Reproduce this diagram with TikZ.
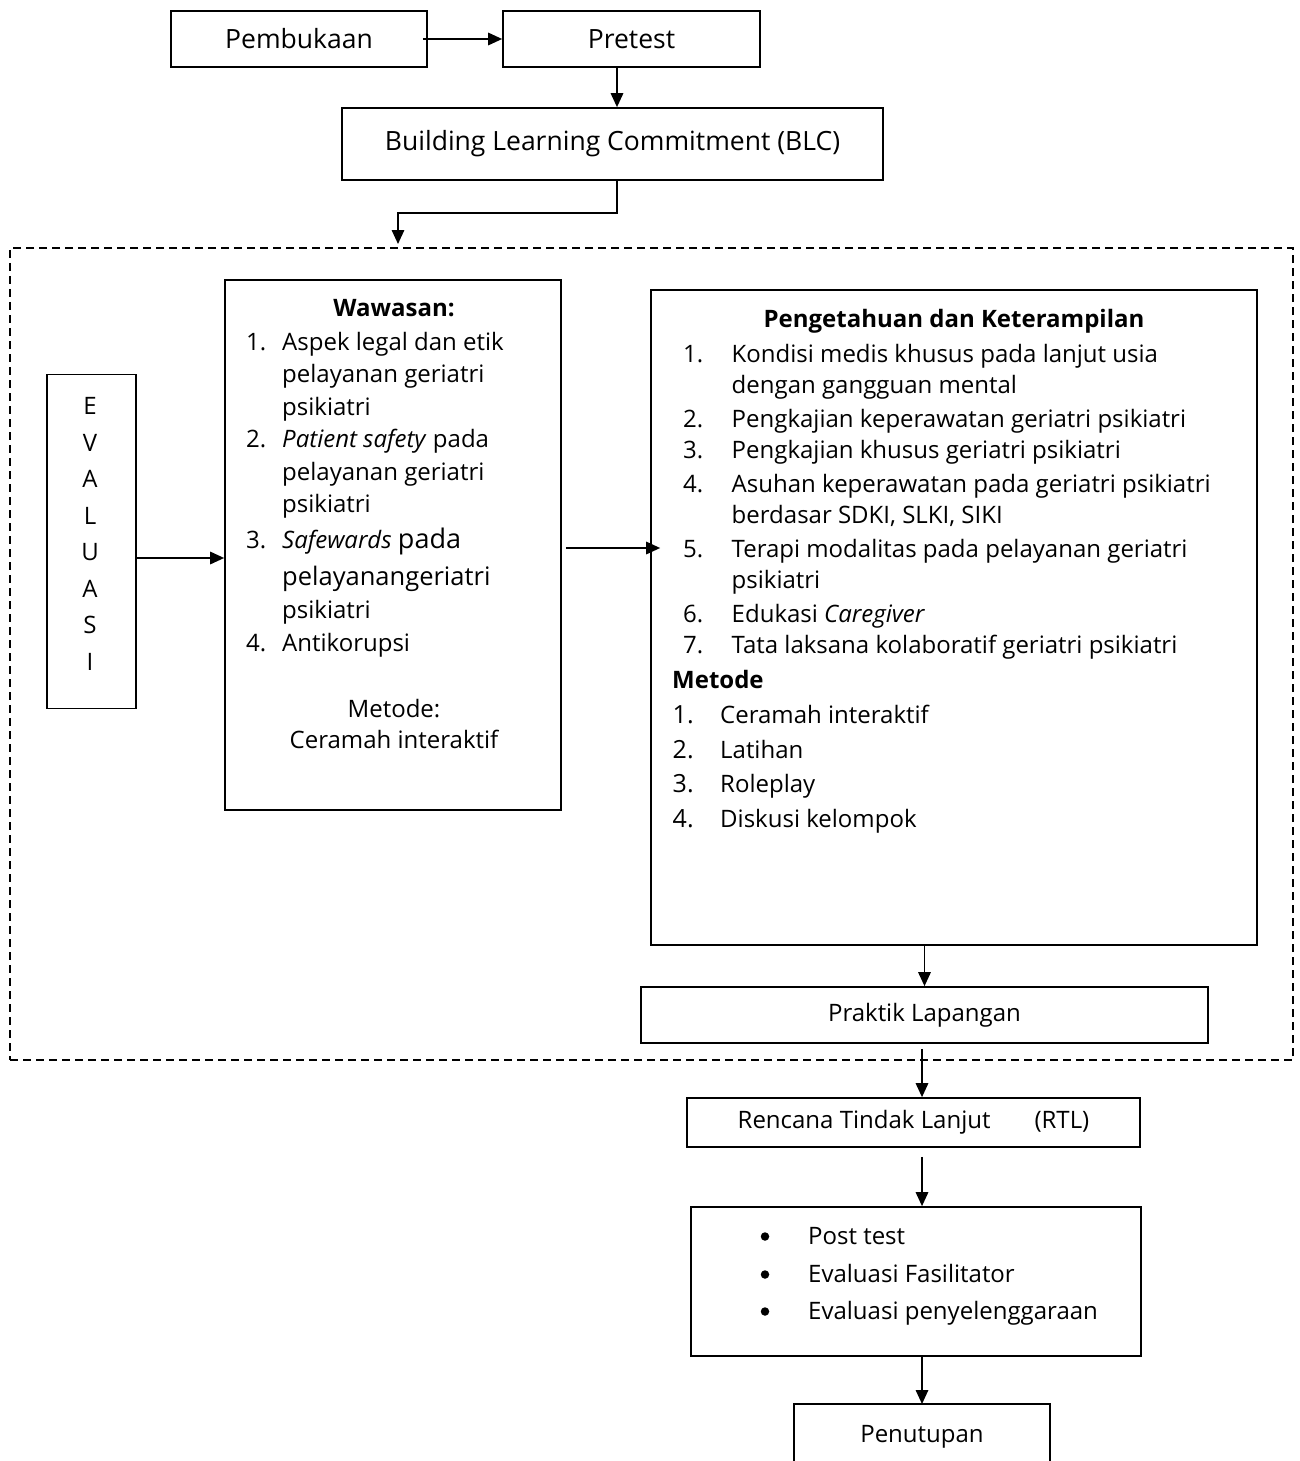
\documentclass[tikz,border=0pt]{standalone}
\usepackage{fontspec}
\setmainfont{Open Sans}
\usetikzlibrary{arrows.meta,calc}
\newcommand\fsz{\fontsize{24}{33}\selectfont}
\newcommand\fbig{\fontsize{26.5}{33}\selectfont}
\begin{document}
\begin{tikzpicture}[x=1pt,y=-1pt,
  box/.style={draw, line width=1.7pt, inner sep=0pt, font=\fsz},
  arr/.style={line width=1.6pt, -{Triangle[length=14pt,width=12.5pt]}},
  ln/.style={line width=1.7pt},
  tx/.style={inner sep=0pt, anchor=base west, font=\fsz},
  tc/.style={inner sep=0pt, anchor=base, font=\fsz},
  dot/.style={circle, fill, inner sep=0pt, minimum size=8.5pt},
  dbox/.style={draw, line width=1.5pt, dash pattern=on 8pt off 5pt, inner sep=0pt}]
\useasboundingbox (0,0) rectangle (1299,1461);
\fill[white] (0,0) rectangle (1299,1461);

% boxes
\node[box, font=\fbig, minimum width=256pt, minimum height=56pt] (pemb) at (299,39) {Pembukaan};
\node[box, font=\fbig, minimum width=257pt, minimum height=56pt] (pre) at (631.5,39) {Pretest};
\node[box, font=\fbig, minimum width=541pt, minimum height=72pt] (blc) at (612.5,144) {Building Learning Commitment (BLC)};
\node[dbox, minimum width=1283pt, minimum height=812pt] (grp) at (651.5,654) {};
\node[box, minimum width=89pt, minimum height=334pt] (eval) at (91.5,541.5) {};
\node[inner sep=0pt, align=center, font=\fontsize{24}{36.5}\selectfont] (evaltxt) at (90,534) {E\\V\\A\\L\\U\\A\\S\\I};
\node[box, minimum width=336pt, minimum height=530pt] (waw) at (393,545) {};
\node[box, minimum width=606pt, minimum height=655pt] (pk) at (954,617.5) {};
\node[box, minimum width=567pt, minimum height=56pt] (prak) at (924.5,1015) {Praktik Lapangan};
\node[box, minimum width=453pt, minimum height=49pt] (rtl) at (913.5,1122.5) {Rencana Tindak Lanjut\hspace{44pt}(RTL)};
\node[box, minimum width=450pt, minimum height=149pt] (ev) at (916,1281.5) {};
\draw[ln] (794,1461) |- (1050,1404) -- (1050,1461);
\coordinate (pentop) at (922,1404);
\node[tc] (pen) at (922,1442) {Penutupan};

% connectors
\draw[arr] ([xshift=-5pt]pemb.east) -- (pre.west);
\draw[arr] ([xshift=-14.5pt]pre.south) -- ([xshift=-14.5pt]pre.south |- blc.north);
\coordinate (bend) at (617,213);
\coordinate (gin) at (398,244);
\draw[arr] (bend |- blc.south) -- (bend) -| (gin);
\draw[arr] ($(eval.east)+(0,16.5)$) -- ($(waw.west)+(0,13)$);
\draw[arr] ($(waw.east)+(4,3)$) -- ($(pk.west)+(10,-69.5)$);
\draw[arr] (prak.north |- pk.south) -- (prak.north);
\draw[arr] ($(prak.south)+(-2.5,5)$) -- ($(rtl.north)+(8.5,0)$);
\draw[arr] ($(rtl.south)+(8.5,9)$) -- ($(ev.north)+(6,0)$);
\draw[arr] ($(ev.south)+(6,0)$) -- (pentop);

% Wawasan text
\node[tc, font=\fsz\bfseries] (wt) at (394,316) {Wawasan:};
\node[tx] (w1n) at (246,350) {1.};
\node[tx] (w1a) at (282,350) {Aspek legal dan etik};
\node[tx] (w1b) at (282,382) {pelayanan geriatri};
\node[tx] (w1c) at (282,415) {psikiatri};
\node[tx] (w2n) at (246,447) {2.};
\node[tx] (w2a) at (282,447) {\textit{Patient safety} pada};
\node[tx] (w2b) at (282,480) {pelayanan geriatri};
\node[tx] (w2c) at (282,512) {psikiatri};
\node[tx] (w3n) at (246,548) {3.};
\node[tx] (w3a) at (282,548) {\textit{Safewards} {\fontsize{27}{33}\selectfont pada}};
\node[tx] (w3b) at (282,585) {\fontsize{25.5}{33}\selectfont pelayanangeriatri};
\node[tx] (w3c) at (282,618) {psikiatri};
\node[tx] (w4n) at (246,651) {4.};
\node[tx] (w4a) at (282,651) {Antikorupsi};
\node[tc] (wm) at (394,717) {Metode:};
\node[tc] (wm1) at (394,748) {Ceramah interaktif};

% Pengetahuan text
\node[tc, font=\fsz\bfseries] (pt) at (954,327) {Pengetahuan dan Keterampilan};
\node[tx] (p1n) at (683,362) {1.};
\node[tx] (p1a) at (731.5,362) {Kondisi medis khusus pada lanjut usia};
\node[tx] (p1b) at (731.5,393) {dengan gangguan mental};
\node[tx] (p2n) at (683,427) {2.};
\node[tx] (p2a) at (731.5,427) {Pengkajian keperawatan geriatri psikiatri};
\node[tx] (p3n) at (683,458) {3.};
\node[tx] (p3a) at (731.5,458) {Pengkajian khusus geriatri psikiatri};
\node[tx] (p4n) at (683,492) {4.};
\node[tx] (p4a) at (731.5,492) {Asuhan keperawatan pada geriatri psikiatri};
\node[tx] (p4b) at (731.5,523) {berdasar SDKI, SLKI, SIKI};
\node[tx] (p5n) at (683,557) {5.};
\node[tx] (p5a) at (731.5,557) {Terapi modalitas pada pelayanan geriatri};
\node[tx] (p5b) at (731.5,588) {psikiatri};
\node[tx] (p6n) at (683,622) {6.};
\node[tx] (p6a) at (731.5,622) {Edukasi \textit{Caregiver}};
\node[tx] (p7n) at (683,653) {7.};
\node[tx] (p7a) at (731.5,653) {Tata laksana kolaboratif geriatri psikiatri};
\node[tx, font=\fsz\bfseries] (pm) at (672,688) {Metode};
\node[tx, font=\fontsize{25}{33}\selectfont] (pm1n) at (672.5,723) {1.};
\node[tx] (pm1) at (720,723) {Ceramah interaktif};
\node[tx, font=\fontsize{25}{33}\selectfont] (pm2n) at (672.5,758) {2.};
\node[tx] (pm2) at (720,758) {Latihan};
\node[tx, font=\fontsize{25}{33}\selectfont] (pm3n) at (672.5,792) {3.};
\node[tx] (pm3) at (720,792) {Roleplay};
\node[tx, font=\fontsize{25}{33}\selectfont] (pm4n) at (672.5,827) {4.};
\node[tx] (pm4) at (720,827) {Diskusi kelompok};

% bullets
\node[dot] (b1d) at (765,1236.5) {};
\node[tx] (b1) at (808,1244) {Post test};
\node[dot] (b2d) at (765,1274.5) {};
\node[tx] (b2) at (808,1282) {Evaluasi Fasilitator};
\node[dot] (b3d) at (765,1311.5) {};
\node[tx] (b3) at (808,1319) {Evaluasi penyelenggaraan};
\end{tikzpicture}
\end{document}
